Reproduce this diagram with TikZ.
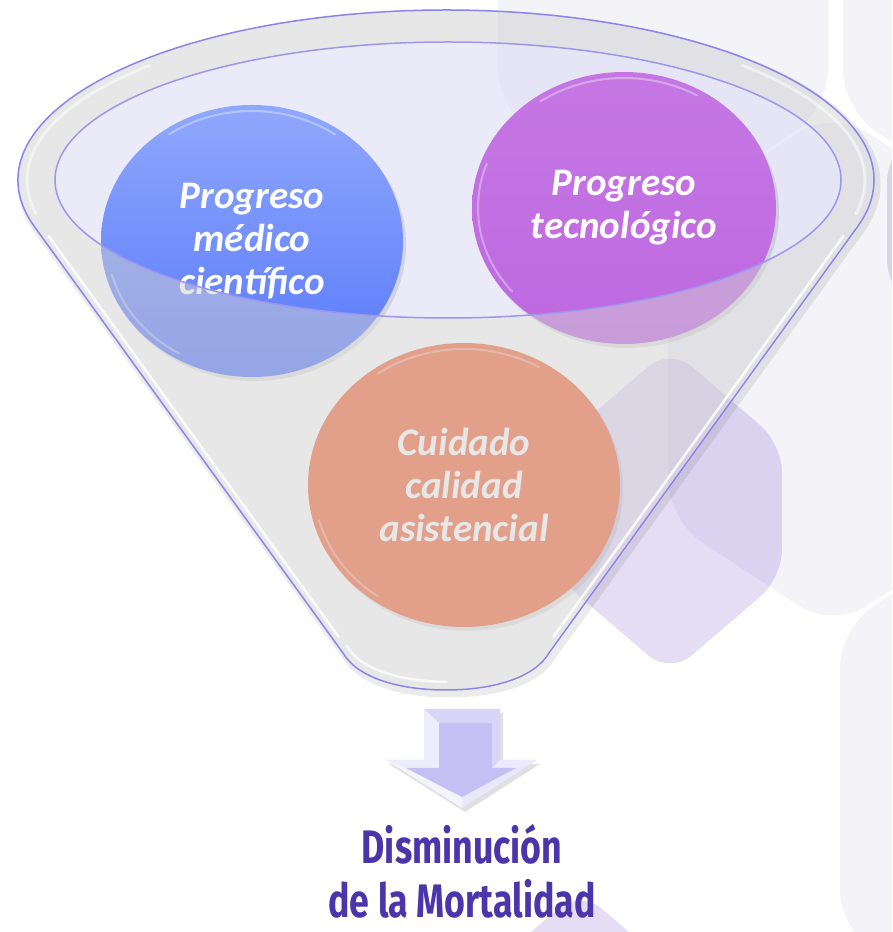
\documentclass[tikz,border=0pt]{standalone}
\usepackage{fontspec}
\usetikzlibrary{shapes.geometric}
\newfontfamily\calfont{Carlito}
\newfontfamily\handfont[FakeStretch=0.76]{Fira Sans}
\definecolor{hexgrey}{HTML}{F3F3F8}
\definecolor{lavhex}{RGB}{99,57,195}
\definecolor{fungrey}{RGB}{209,209,211}
\definecolor{openfill}{RGB}{220,218,245}
\definecolor{rimline}{HTML}{8C84EC}
\definecolor{bluetop}{HTML}{90A8FC}
\definecolor{bluebot}{HTML}{5878FA}
\definecolor{purp}{HTML}{BE68E0}
\definecolor{orng}{HTML}{F56F43}
\definecolor{arrowin}{HTML}{C5BFF3}
\definecolor{arrowout}{HTML}{D9D5F9}
\definecolor{darkpurple}{HTML}{4A35AA}
\tikzset{
  hexg/.style={fill=hexgrey, rounded corners=40pt},
  hexl/.style={fill=lavhex, fill opacity=0.167, rounded corners=28pt},
  funnelp/.style={insert path={(343,279) -- (34.6,705.1) arc[start angle=196, end angle=-16, x radius=428pt, y radius=170pt] -- (549,279) .. controls (535,255) and (495,242) .. (446,242) .. controls (397,242) and (357,255) .. (343,279) -- cycle}},
  bubble/.style={ellipse, inner sep=0pt, text=white, align=center,
     font=\calfont\bfseries\itshape\fontsize{39}{43}\selectfont},
  gloss/.style={white, line width=2pt, line cap=round, draw opacity=0.35},
  rim/.style={draw=rimline, line width=1.5pt},
  result/.style={text=darkpurple, inner sep=0pt, anchor=base, font=\handfont\bfseries\fontsize{47}{55}\selectfont},
}
\begin{document}
\begin{tikzpicture}[x=1pt,y=1pt]
\useasboundingbox (0,0) rectangle (892,932);
\fill[white] (0,0) rectangle (892,932);
% background honeycomb
\begin{scope}
\clip (0,0) rectangle (892,932);
\fill[hexg] (498,973) -- (498,1124) -- (663,1232) -- (828,1124) -- (828,822) -- (663,714) -- (498,822) -- cycle;
\fill[hexg] (843,973) -- (843,1124) -- (1008,1232) -- (1173,1124) -- (1173,822) -- (1008,714) -- (843,822) -- cycle;
\fill[hexg] (668,563) -- (668,714) -- (833,822) -- (998,714) -- (998,412) -- (833,304) -- (668,412) -- cycle;
\fill[hexg] (840,153) -- (840,304) -- (1005,412) -- (1170,304) -- (1170,2) -- (1005,-106) -- (840,2) -- cycle;
\fill[hexl] (558,421) -- (558,488) -- (670,584) -- (782,488) -- (782,354) -- (670,258) -- (558,354) -- cycle;
\fill[hexl] (887,711) -- (887,778) -- (999,874) -- (1111,778) -- (1111,644) -- (999,548) -- (887,644) -- cycle;
\fill[hexl] (468,-121) -- (468,-54) -- (580,42) -- (692,-54) -- (692,-188) -- (580,-284) -- (468,-188) -- cycle;
\end{scope}
% funnel shadow outside
\begin{scope}
\clip[funnelp] (0,0) -- (892,0) -- (892,932) -- (0,932) -- cycle;
\draw[black, draw opacity=0.08, line width=7pt, shift={(3,-4)}, funnelp];
\end{scope}
% funnel opening
\fill[openfill, fill opacity=0.55] (448,752) ellipse [x radius=393pt, y radius=138pt];
% circle shadows
\fill[black, fill opacity=0.10] (255,687) ellipse [x radius=151pt, y radius=136pt];
\fill[black, fill opacity=0.10] (627,720) ellipse [x radius=152pt, y radius=136pt];
\fill[black, fill opacity=0.10] (467,443) ellipse [x radius=156pt, y radius=142pt];
% circles
\node[bubble, top color=bluetop, bottom color=bluebot, minimum width=302pt, minimum height=272pt] (med) at (252,691) {Progreso\\médico\\científico};
\node[bubble, top color=purp!90!white, bottom color=purp, minimum width=304pt, minimum height=272pt] (tec) at (624,724) {Progreso\\tecnológico};
\node[bubble, fill=orng, minimum width=312pt, minimum height=284pt] (cui) at (464,447) {Cuidado\\calidad\\asistencial};
% glossy rims
\draw[gloss] (med.center) ++(55:145pt and 130pt) arc[start angle=55, end angle=125, x radius=145pt, y radius=130pt];
\draw[gloss] (med.center) ++(195:145pt and 130pt) arc[start angle=195, end angle=240, x radius=145pt, y radius=130pt];
\draw[gloss] (tec.center) ++(60:146pt and 130pt) arc[start angle=60, end angle=125, x radius=146pt, y radius=130pt];
\draw[gloss] (tec.center) ++(160:146pt and 130pt) arc[start angle=160, end angle=220, x radius=146pt, y radius=130pt];
\draw[gloss] (cui.center) ++(60:150pt and 136pt) arc[start angle=60, end angle=125, x radius=150pt, y radius=136pt];
\draw[gloss] (cui.center) ++(195:150pt and 136pt) arc[start angle=195, end angle=235, x radius=150pt, y radius=136pt];
% funnel front, semi-transparent
\fill[fungrey, fill opacity=0.5, even odd rule, funnelp] (448,752) ellipse [x radius=393pt, y radius=138pt];
% highlights
\draw[white, line width=2.5pt, draw opacity=0.85, line cap=round] (338.6,295.3) -- (48.8,695.8);
\draw[white, line width=2.5pt, draw opacity=0.85, line cap=round] (553.4,295.3) -- (843.2,695.8);
\draw[white, line width=2.5pt, draw opacity=0.75, line cap=round] (347,286) .. controls (360,263) and (398,251) .. (446,250);
\draw[white, line width=3pt, draw opacity=0.5, line cap=round] (446,752) ++(-12:419pt and 162pt) arc[start angle=-12, end angle=45, x radius=419pt, y radius=162pt];
\draw[white, line width=3pt, draw opacity=0.5, line cap=round] (446,752) ++(135:419pt and 162pt) arc[start angle=135, end angle=192, x radius=419pt, y radius=162pt];
% outlines
\draw[rim, funnelp];
\draw[rim, draw=rimline!85!white] (448,752) ellipse [x radius=393pt, y radius=138pt];
% arrow
\fill[black, fill opacity=0.12] (427,219) -- (503,219) -- (503,168) -- (540,168) -- (465,120) -- (389,168) -- (427,168) -- cycle;
\fill[arrowout] (424,223) -- (500,223) -- (500,172) -- (537,172) -- (462,124) -- (386,172) -- (424,172) -- cycle;
\fill[white, fill opacity=0.55] (424,223) -- (439,209) -- (439,164) -- (406,164) -- (386,172) -- (424,172) -- cycle;
\fill[white, fill opacity=0.75] (386,172) -- (462,124) -- (462,135) -- (406,164) -- cycle;
\fill[white, fill opacity=0.45] (462,124) -- (537,172) -- (516,164) -- (462,135) -- cycle;
\fill[white, fill opacity=0.5] (500,172) -- (537,172) -- (516,164) -- (492,164) -- cycle;
\fill[arrowin] (439,209) -- (492,209) -- (492,164) -- (516,164) -- (462,135) -- (406,164) -- (439,164) -- cycle;
% result text
\node[result] (dis1) at (462,68) {Disminución};
\node[result] (dis2) at (462,14) {de la Mortalidad};
\end{tikzpicture}
\end{document}
